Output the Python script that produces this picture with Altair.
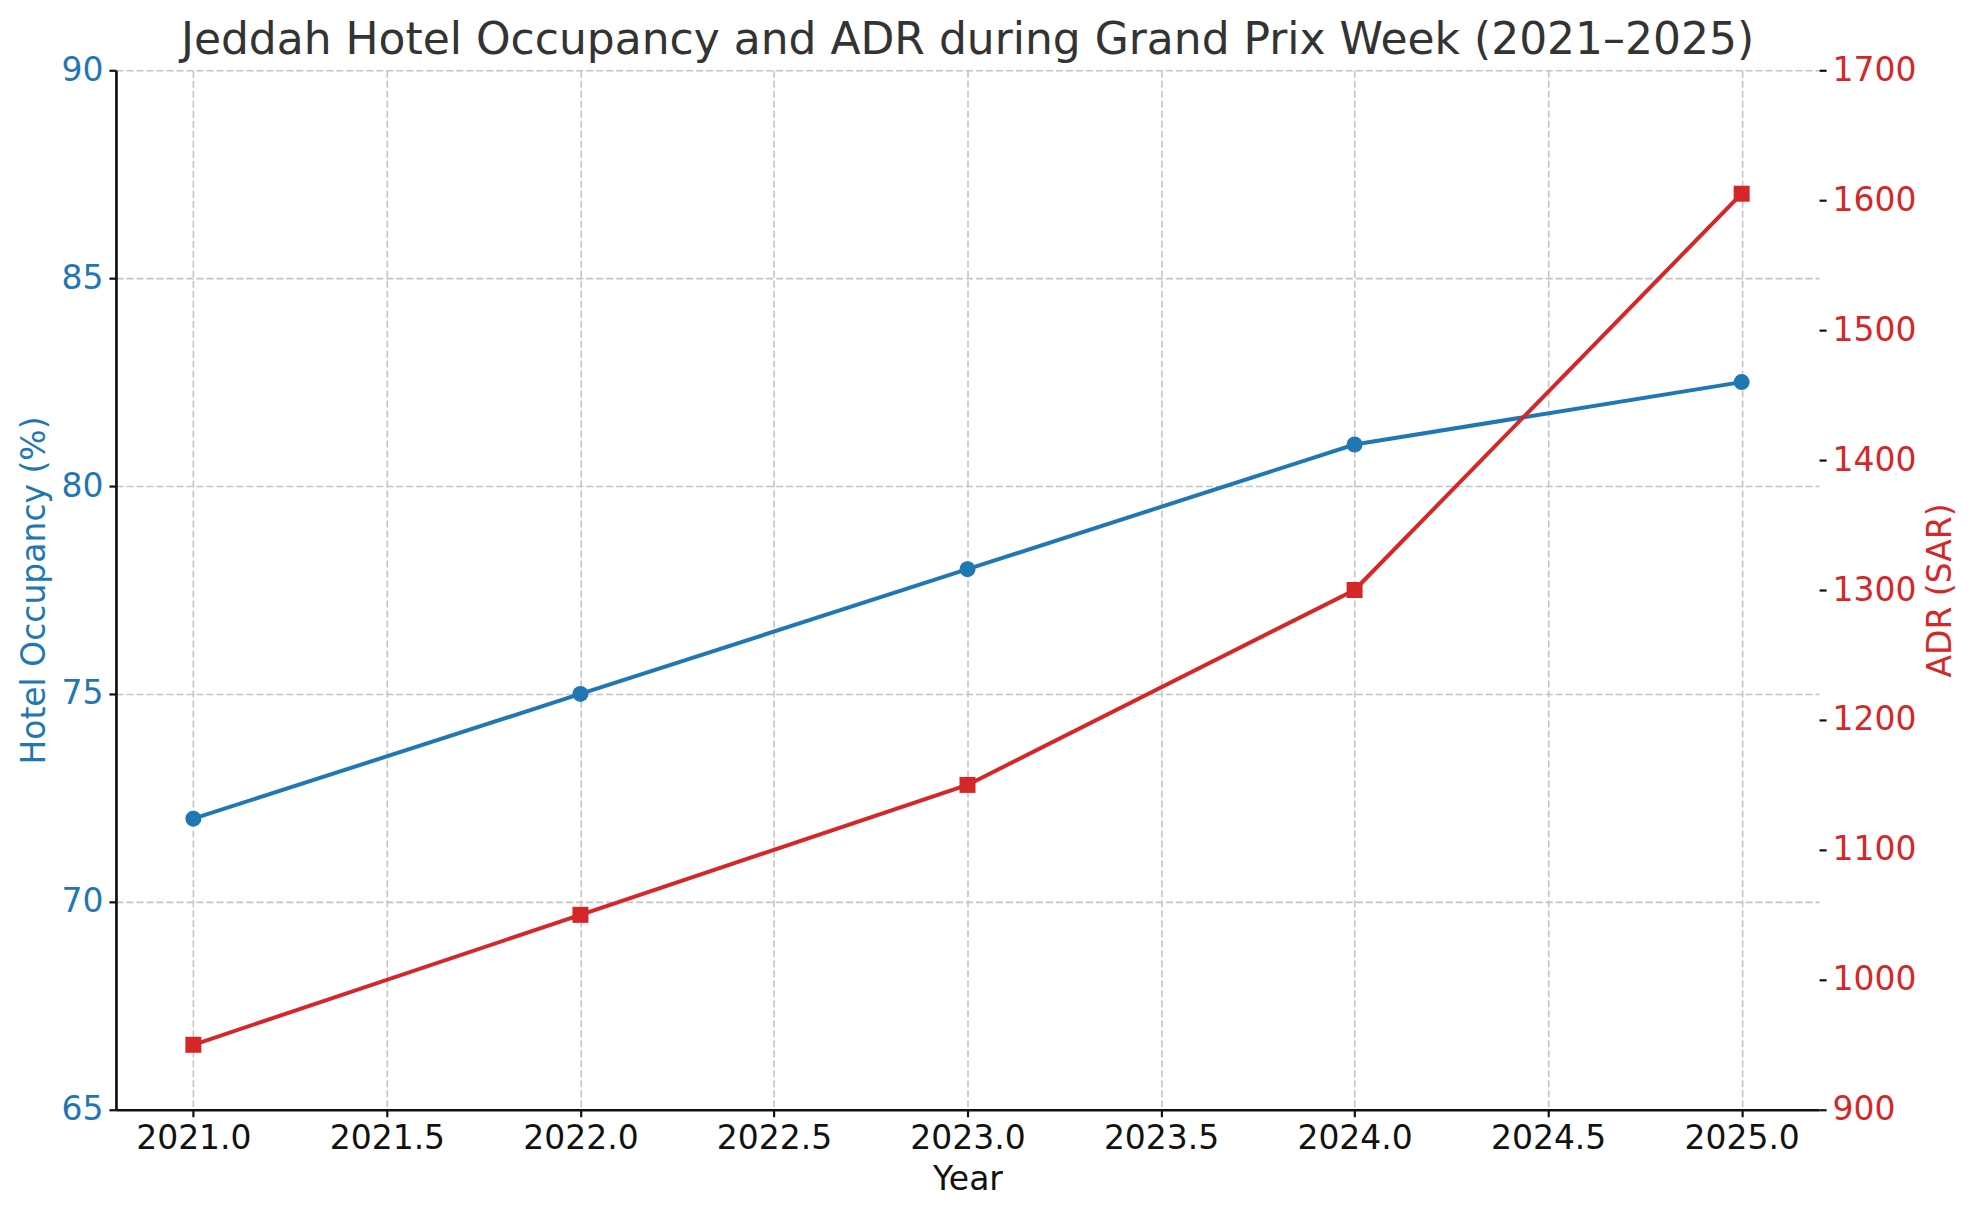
import altair as alt
import pandas as pd

years = [2021, 2022, 2023, 2024, 2025]
occupancy = [72, 75, 78, 81, 82.5]
adr = [950, 1050, 1150, 1300, 1605]

x_ticks = [2021.0, 2021.5, 2022.0, 2022.5, 2023.0, 2023.5, 2024.0, 2024.5, 2025.0]
occ_ticks = [65, 70, 75, 80, 85, 90]
adr_ticks = [900, 1000, 1100, 1200, 1300, 1400, 1500, 1600, 1700]

BLUE = "#1f77b4"
RED = "#d62728"
FONT = "DejaVu Sans"

df = pd.DataFrame({"Year": years, "Occupancy": occupancy, "ADR": adr})

x_enc = alt.X(
    "Year:Q",
    scale=alt.Scale(domain=[2020.8, 2025.2], nice=False, zero=False),
    axis=alt.Axis(
        values=x_ticks, format=".1f", title="Year",
        labelColor="#111111", titleColor="#111111",
        labelPadding=6, titlePadding=8,
    ),
)

occ = alt.Chart(df).mark_line(
    color=BLUE, strokeWidth=4,
    point=alt.OverlayMarkDef(shape="circle", filled=True, size=256, color=BLUE, opacity=1),
).encode(
    x=x_enc,
    y=alt.Y(
        "Occupancy:Q",
        scale=alt.Scale(domain=[65, 90], nice=False, zero=False),
        axis=alt.Axis(
            values=occ_ticks, format="d", orient="left", title="Hotel Occupancy (%)",
            labelColor=BLUE, titleColor=BLUE, labelPadding=6, titlePadding=9,
        ),
    ),
)

adr_chart = alt.Chart(df).mark_line(
    color=RED, strokeWidth=4,
    point=alt.OverlayMarkDef(shape="square", filled=True, size=256, color=RED, opacity=1),
).encode(
    x=x_enc,
    y=alt.Y(
        "ADR:Q",
        scale=alt.Scale(domain=[900, 1700], nice=False, zero=False),
        axis=alt.Axis(
            values=adr_ticks, format="d", orient="right", title="ADR (SAR)",
            labelColor=RED, titleColor=RED, labelPadding=6, titlePadding=9,
            domain=False, titleAngle=270, titleBaseline="top",
        ),
    ),
)

chart = alt.layer(occ, adr_chart).resolve_scale(y="independent").properties(
    width=1704,
    height=1040,
    title=alt.TitleParams(
        "Jeddah Hotel Occupancy and ADR during Grand Prix Week (2021–2025)",
        font=FONT, fontSize=44, fontWeight="normal", color="#333333",
        anchor="middle", baseline="alphabetic", offset=0, dy=44,
    ),
    autosize=alt.AutoSizeParams(type="none"),
    padding={"left": 108, "top": 62, "right": 152, "bottom": 100},
).configure_view(
    stroke="transparent"
).configure_axis(
    labelFont=FONT, titleFont=FONT, labelFontSize=33, titleFontSize=33,
    titleFontWeight="normal",
    grid=True, gridColor="#c4c4c4", gridDash=[7, 3], gridWidth=1.6,
    domainColor="#111111", domainWidth=2.7,
    tickColor="#111111", tickWidth=2.2, tickSize=7,
).configure_title(font=FONT)

chart.save("out.html", embed_options={"renderer": "svg", "actions": False})
